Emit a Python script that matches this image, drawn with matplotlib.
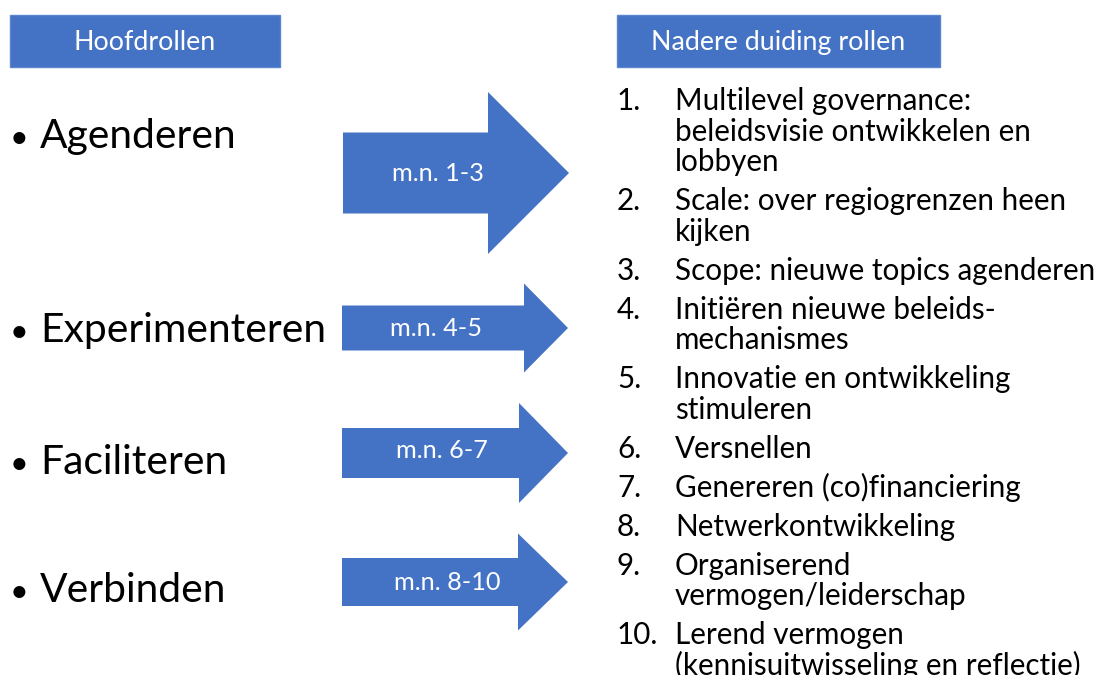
import matplotlib
matplotlib.use('Agg')
import matplotlib.pyplot as plt
from matplotlib.patches import Rectangle, FancyArrow

FONT = 'Lato'
BLUE = '#4472C4'

headers = ['Hoofdrollen', 'Nadere duiding rollen']
roles = ['Agenderen', 'Experimenteren', 'Faciliteren', 'Verbinden']
arrowLabels = ['m.n. 1-3', 'm.n. 4-5', 'm.n. 6-7', 'm.n. 8-10']
items = [
    ['Multilevel governance:', 'beleidsvisie ontwikkelen en', 'lobbyen'],
    ['Scale: over regiogrenzen heen', 'kijken'],
    ['Scope: nieuwe topics agenderen'],
    ['Initiëren nieuwe beleids-', 'mechanismes'],
    ['Innovatie en ontwikkeling', 'stimuleren'],
    ['Versnellen'],
    ['Genereren (co)financiering'],
    ['Netwerkontwikkeling'],
    ['Organiserend', 'vermogen/leiderschap'],
    ['Lerend vermogen', '(kennisuitwisseling en reflectie)'],
]

# layout in pixels (figure is 1101x675, 1 data unit = 1 px)
headerBoxes = [(10, 15, 270, 52), (617, 15, 323, 52)]
roleBaselines = [148, 342, 474, 602]
# x start, y centre, length, shaft width, head width, head length, label x, label baseline
arrows = [
    (343, 173, 226, 81, 162, 81, 438, 181),
    (342, 328, 226, 45, 89, 44, 436, 336),
    (342, 453, 226, 50, 100, 49, 442, 458),
    (342, 582, 226, 48, 97, 50, 447, 590),
]

fig = plt.figure(figsize=(11.01, 6.75), dpi=100)
ax = fig.add_axes([0, 0, 1, 1])
ax.set_xlim(0, 1101)
ax.set_ylim(675, 0)
ax.axis('off')
renderer = fig.canvas.get_renderer()

def fitSize(text, width, base=20):
    # scale font size so the text gets the width seen in the reference
    t = ax.text(0, 0, text, fontsize=base, family=FONT)
    w = t.get_window_extent(renderer).width
    t.remove()
    return base * width / w

headerSize = fitSize('Nadere duiding rollen', 255)
roleSize = fitSize('Experimenteren', 287)
labelSize = fitSize('m.n. 8-10', 107)
listSize = fitSize('Scope: nieuwe topics agenderen', 421)

for (x, y, w, h), title in zip(headerBoxes, headers):
    ax.add_patch(Rectangle((x, y), w, h, facecolor=BLUE, edgecolor='#5B86CF', lw=1))
    ax.text(x + w / 2, y + 35, title, color='white', fontsize=headerSize,
            family=FONT, ha='center', va='baseline')

for role, yb in zip(roles, roleBaselines):
    ax.text(10, yb, '•', fontsize=roleSize * 0.8, family=FONT, va='baseline')
    ax.text(40, yb, role, fontsize=roleSize, family=FONT, va='baseline')

for (x, y, L, sw, hw, hl, lx, ly), lab in zip(arrows, arrowLabels):
    ax.add_patch(FancyArrow(x, y, L, 0, width=sw, head_width=hw, head_length=hl,
                            length_includes_head=True, facecolor=BLUE,
                            edgecolor='none'))
    ax.text(lx, ly, lab, color='white', fontsize=labelSize, family=FONT,
            ha='center', va='baseline')

y = 110
for i, lines in enumerate(items):
    ax.text(617, y, f'{i + 1}.', fontsize=listSize, family=FONT, va='baseline')
    for line in lines:
        ax.text(675, y, line, fontsize=listSize, family=FONT, va='baseline')
        y += 30.7
    y += 8.2

fig.savefig('out.png', dpi=100)
